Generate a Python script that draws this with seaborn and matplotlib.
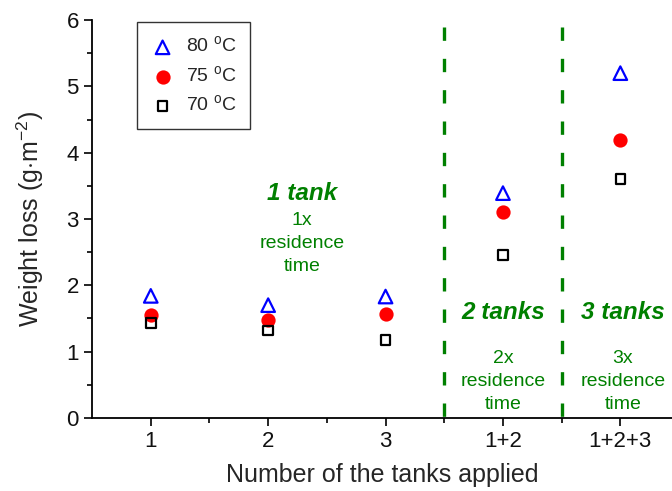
import matplotlib
matplotlib.use("Agg")
import matplotlib.pyplot as plt
import seaborn as sns
import pandas as pd
from matplotlib.ticker import MultipleLocator

sns.set_style("ticks")
plt.rcParams["font.family"] = ["Liberation Sans", "DejaVu Sans"]
plt.rcParams["mathtext.fontset"] = "custom"
plt.rcParams["mathtext.rm"] = "Liberation Sans"

categories = ["1", "2", "3", "1+2", "1+2+3"]
loss_80 = [1.84, 1.70, 1.83, 3.39, 5.20]
loss_75 = [1.55, 1.47, 1.56, 3.11, 4.19]
loss_70 = [1.43, 1.32, 1.17, 2.46, 3.60]

positions = list(range(1, len(categories) + 1))
green = "#008000"

fig = plt.figure(figsize=(6.72, 4.91), dpi=100)
ax = fig.add_axes([0.137, 0.149, 0.863, 0.810])

series = [
    ("80 $^{\\mathregular{o}}$C", loss_80, "^", "none", "blue", 95),
    ("75 $^{\\mathregular{o}}$C", loss_75, "o", "red", "red", 75),
    ("70 $^{\\mathregular{o}}$C", loss_70, "s", "none", "black", 48),
]
for label, vals, mk, fc, ec, size in series:
    df = pd.DataFrame({"x": positions, "y": vals})
    sns.scatterplot(data=df, x="x", y="y", marker=mk, s=size, facecolor=fc,
                    edgecolor=ec, linewidth=1.6, label=label, ax=ax, zorder=3)

# region separators, drawn from the top down
for xv in (3.5, 4.5):
    ax.plot([xv, xv], [5.9, 0], color=green, lw=2.4, ls=(0, (4.0, 5.4)),
            solid_capstyle="butt", zorder=2)

ax.set_xlim(0.5, 5.44)
ax.set_ylim(0, 6)
ax.set_xticks(positions)
ax.set_xticklabels(categories)
ax.set_xticks([1.5, 2.5, 3.5, 4.5], minor=True)
ax.yaxis.set_major_locator(MultipleLocator(1))
ax.yaxis.set_minor_locator(MultipleLocator(0.5))
ax.tick_params(axis="both", which="major", direction="out", length=6, width=1.2,
               labelsize=16, color="black", labelcolor="#111111")
ax.tick_params(axis="both", which="minor", direction="out", length=3.5, width=1.2,
               color="black")
for side in ("left", "bottom"):
    ax.spines[side].set_linewidth(1.3)
    ax.spines[side].set_color("black")
for side in ("top", "right"):
    ax.spines[side].set_visible(False)

ax.set_xlabel("Number of the tanks applied", fontsize=18, labelpad=8)
ax.set_ylabel("Weight loss (g$\\cdot$m$^{\\mathregular{-2}}$)", fontsize=18, labelpad=15)

title_kw = dict(color=green, fontsize=17.5, fontweight="bold", fontstyle="italic",
                ha="center", va="center")
note_kw = dict(color=green, fontsize=14, ha="center", va="center", linespacing=1.44)

ax.text(2.29, 3.38, "1 tank", **title_kw)
ax.text(2.29, 2.63, "1x\nresidence\ntime", **note_kw)
ax.text(4.0, 1.59, "2 tanks", **title_kw)
ax.text(4.0, 0.55, "2x\nresidence\ntime", **note_kw)
ax.text(5.02, 1.59, "3 tanks", **title_kw)
ax.text(5.02, 0.55, "3x\nresidence\ntime", **note_kw)

leg = ax.legend(loc="upper left", bbox_to_anchor=(0.078, 0.995), fontsize=14,
                frameon=True, fancybox=False, edgecolor="black",
                handletextpad=0.6, borderpad=0.7, labelspacing=0.45,
                handlelength=1.2, borderaxespad=0)
leg.get_frame().set_linewidth(1.0)

fig.savefig("out.png", dpi=100)
